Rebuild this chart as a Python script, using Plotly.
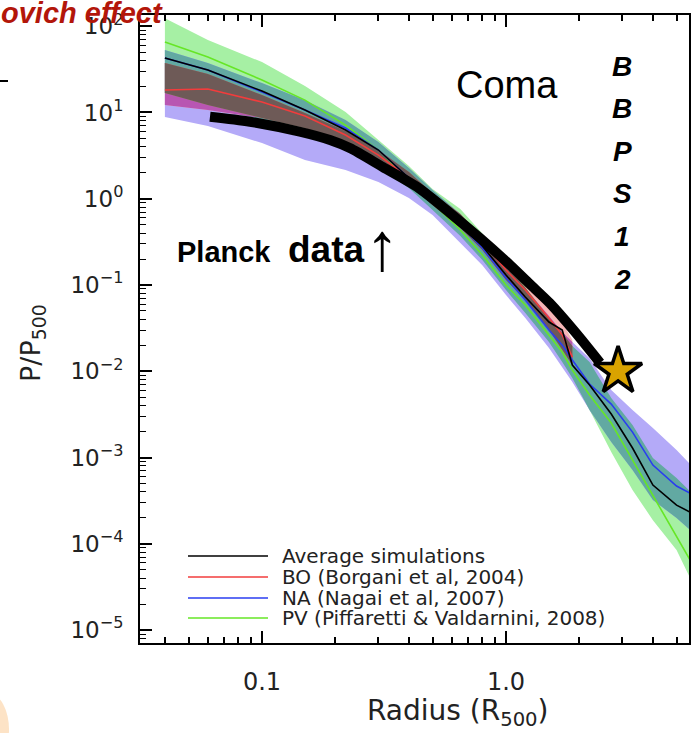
import numpy as np
import plotly.graph_objects as go

# ---------------- data ----------------
radius = [0.04, 0.06, 0.1, 0.15, 0.22, 0.3, 0.4, 0.5, 0.65, 0.8, 1.0, 1.2, 1.5,
          1.7, 1.87, 2.2, 2.7, 3.3, 4.0, 5.0, 6.0]

avg_sim = [42.8, 31.0, 17.7, 10.7, 6.26, 3.67, 1.74, 0.966, 0.509, 0.283, 0.1305,
           0.0725, 0.0372, 0.0301, 0.0118, 0.00692, 0.00319, 0.00129, 0.00048,
           0.000281, 0.000215]

bo_line = [18.2, 18.7, 13.2, 9.09, 5.48, 3.21, 1.74, 1.02, 0.566, 0.315, 0.149,
           0.0874, 0.0414, 0.0263, 0.0146]
bo_high = [37.4, 27.9, 15.9, 9.85, 6.09, 3.67, 2.04, 1.16, 0.665, 0.369, 0.1845,
           0.1082, 0.0541, 0.0372, 0.0230]
bo_low = [12.2, 10.7, 8.62, 6.60, 4.19, 2.66, 1.48, 0.845, 0.457, 0.254, 0.1142,
          0.067, 0.0301, 0.0176, 0.0118]

na_line = [42.8, 31.0, 17.3, 10.7, 6.60, 3.67, 1.74, 0.966, 0.496, 0.268, 0.1204,
           0.067, 0.0301, 0.0201, 0.0135, 0.00711, 0.00417, 0.00197, 0.000818,
           0.000467, 0.000357]
na_high = [52.9, 37.4, 21.9, 13.9, 8.17, 4.54, 2.27, 1.26, 0.665, 0.350, 0.166,
           0.0922, 0.0437, 0.0285, 0.0218, 0.0142, 0.00606, 0.00355, 0.00220,
           0.00122, 0.000716]
na_low = [8.85, 6.96, 4.42, 2.81, 2.15, 1.56, 1.02, 0.647, 0.306, 0.170, 0.0765,
          0.0414, 0.0186, 0.0109, 0.0075, 0.00355, 0.00151, 0.000716, 0.000321,
          0.000199, 0.000126]

pv_line = [65.6, 43.9, 23.8, 13.9, 7.15, 3.67, 1.65, 0.892, 0.434, 0.2225, 0.0999,
           0.0586, 0.0263, 0.0167, 0.01033, 0.0053, 0.00251, 0.000935, 0.000367,
           0.00012, 0.0000496]
pv_high = [124, 69, 38.4, 20.3, 10.1, 4.79, 2.39, 1.30, 0.760, 0.395, 0.1845,
           0.0947, 0.0414, 0.0277, 0.0196, 0.0128, 0.0049, 0.00238, 0.000986,
           0.000578, 0.000348]
pv_low = [16.8, 12.2, 8.17, 5.78, 3.67, 2.27, 1.33, 0.740, 0.369, 0.1947, 0.0874,
          0.0473, 0.0218, 0.0128, 0.00834, 0.00355, 0.00116, 0.00042, 0.000188,
          0.0000846, 0.0000291]

planck_r = [0.0612, 0.0893, 0.143, 0.190, 0.229, 0.313, 0.432, 0.590, 0.782, 1.04,
            1.25, 1.51, 1.92, 2.43]
planck_p = [8.93, 7.81, 5.98, 4.79, 3.87, 2.33, 1.37, 0.683, 0.350, 0.170, 0.103,
            0.0618, 0.0285, 0.0125]

star_r = [2.88]
star_p = [0.0100]

series_names = ["Average simulations", "BO (Borgani et al, 2004)",
                "NA (Nagai et al, 2007)", "PV (Piffaretti & Valdarnini, 2008)"]
series_colors = ["#000000", "#f23c3c", "#2a3cf0", "#66e626"]

y_tickvals = [1e-5, 1e-4, 1e-3, 1e-2, 1e-1, 1e0, 1e1, 1e2]
y_ticktext = ["10<sup>\u22125</sup>", "10<sup>\u22124</sup>", "10<sup>\u22123</sup>",
              "10<sup>\u22122</sup>", "10<sup>\u22121</sup>", "10<sup>0</sup>",
              "10<sup>1</sup>", "10<sup>2</sup>"]
x_tickvals = [0.1, 1.0]
x_ticktext = ["0.1", "1.0"]

# ---------------- layout geometry ----------------
W, H = 692, 733
L, R, T, B = 140, 3, 15, 90
PW, PH = W - L - R, H - T - B


def px(x):
    return (x - L) / PW


def py(y):
    return (H - B - y) / PH


fig = go.Figure()

# ---------------- bands, with overlap colours ----------------
bands = {
    "BO": (np.array(bo_low), np.array(bo_high)),
    "NA": (np.array(na_low), np.array(na_high)),
    "PV": (np.array(pv_low), np.array(pv_high)),
}
combo_colors = {
    ("PV",): "#a6f0a4",
    ("NA",): "#b4aaf8",
    ("BO",): "#f6b6b6",
    ("NA", "PV"): "#62a9a2",
    ("BO", "NA"): "#b856b2",
    ("BO", "PV"): "#a09a62",
    ("BO", "NA", "PV"): "#6e5a57",
}
r_arr = np.array(radius)
for combo, col in combo_colors.items():
    n = min(len(bands[k][0]) for k in combo)
    lo = np.max([bands[k][0][:n] for k in combo], axis=0)
    hi = np.min([bands[k][1][:n] for k in combo], axis=0)
    hi = np.maximum(hi, lo)
    xs = np.concatenate([r_arr[:n], r_arr[:n][::-1]])
    ys = np.concatenate([lo, hi[::-1]])
    fig.add_trace(go.Scatter(x=xs, y=ys, mode="lines", fill="toself",
                             fillcolor=col, line=dict(width=0),
                             hoverinfo="skip", showlegend=False))

# ---------------- simulation lines ----------------
line_data = [
    (pv_line, series_colors[3]),
    (bo_line, series_colors[1]),
    (na_line, series_colors[2]),
    (avg_sim, series_colors[0]),
]
for vals, col in line_data:
    fig.add_trace(go.Scatter(x=radius[:len(vals)], y=vals, mode="lines",
                             line=dict(color=col, width=1.6),
                             hoverinfo="skip", showlegend=False))

# ---------------- Planck data ----------------
fig.add_trace(go.Scatter(x=planck_r, y=planck_p, mode="lines",
                         line=dict(color="black", width=10, shape="spline",
                                   smoothing=0.8),
                         hoverinfo="skip", showlegend=False))
fig.add_trace(go.Scatter(x=star_r, y=star_p, mode="markers",
                         marker=dict(symbol="star", size=36, color="#d9a300",
                                     line=dict(color="black", width=3.5)),
                         hoverinfo="skip", showlegend=False))

# ---------------- legend (drawn by hand) ----------------
shapes = []
annotations = []
legend_rows = [556, 577, 598, 618]
for name, col, yy in zip(series_names, series_colors, legend_rows):
    shapes.append(dict(type="line", xref="paper", yref="paper",
                       x0=px(188), x1=px(268), y0=py(yy), y1=py(yy),
                       line=dict(color=col, width=1.6)))
    annotations.append(dict(text=name, xref="paper", yref="paper",
                            x=px(280), y=py(yy), xanchor="left", yanchor="middle",
                            showarrow=False,
                            font=dict(family="DejaVu Sans", size=20, color="#222")))

# ---------------- texts ----------------
annotations += [
    dict(text="Coma", x=px(507), y=py(85), font=dict(family="Liberation Sans",
                                                     size=38, color="black")),
    dict(text="<b>Planck</b>", x=px(224), y=py(252),
         font=dict(family="Liberation Sans", size=29, color="black")),
    dict(text="<b>data</b>", x=px(326), y=py(249),
         font=dict(family="Liberation Sans", size=37, color="black")),
    dict(text="\u2191", x=px(382), y=py(246),
         font=dict(family="Liberation Sans", size=68, color="black")),
    dict(text="<b><i>ovich effect</i></b>", x=px(-1), y=py(13), xanchor="left",
         font=dict(family="Liberation Sans", size=29, color="#b3160a")),
    dict(text="P/P<sub>500</sub>", x=px(32), y=py(343), textangle=-90,
         font=dict(family="DejaVu Sans", size=27, color="#222")),
    dict(text="Radius (R<sub>500</sub>)", x=px(458), y=py(712),
         font=dict(family="DejaVu Sans", size=28, color="#222")),
]
for i, ch in enumerate(["B", "B", "P", "S", "1", "2"]):
    annotations.append(dict(text="<b><i>%s</i></b>" % ch, x=px(622),
                            y=py(66 + 42.6 * i),
                            font=dict(family="Liberation Sans", size=28,
                                      color="black")))
for a in annotations:
    a.setdefault("xref", "paper")
    a.setdefault("yref", "paper")
    a.setdefault("showarrow", False)
    a.setdefault("xanchor", "center")
    a.setdefault("yanchor", "middle")

shapes += [
    dict(type="line", xref="paper", yref="paper", x0=px(0), x1=px(8),
         y0=py(81), y1=py(81), line=dict(color="black", width=2)),
    dict(type="circle", xref="paper", yref="paper", x0=px(-30), x1=px(9),
         y0=py(765), y1=py(694), fillcolor="#fde3c6", line=dict(width=0),
         layer="below"),
]

x_minor = [v * 10.0 ** e for e in (-2, -1, 0) for v in range(2, 10)]
y_minor = [v * 10.0 ** e for e in range(-6, 3) for v in range(2, 10)]

fig.update_layout(
    width=W, height=H,
    margin=dict(l=L, r=R, t=T, b=B, pad=0, autoexpand=False),
    paper_bgcolor="white", plot_bgcolor="white",
    showlegend=False,
    annotations=annotations,
    shapes=shapes,
    xaxis=dict(type="log", range=[-1.5, 0.75], showgrid=False, zeroline=False,
               automargin=False,
               showline=True, linecolor="black", linewidth=2, mirror="ticks",
               ticks="inside", ticklen=12, tickwidth=1.5, tickcolor="black",
               tickvals=x_tickvals, ticktext=x_ticktext,
               tickfont=dict(family="DejaVu Sans", size=24, color="#222"),
               ticklabelstandoff=16,
               minor=dict(tickvals=x_minor, ticks="inside", ticklen=6,
                          tickwidth=1.5, tickcolor="black", showgrid=False)),
    yaxis=dict(type="log", range=[-5.15, 2.13], showgrid=False, zeroline=False,
               automargin=False,
               showline=True, linecolor="black", linewidth=2, mirror=True,
               ticks="inside", ticklen=12, tickwidth=1.5, tickcolor="black",
               tickvals=y_tickvals, ticktext=y_ticktext,
               tickfont=dict(family="DejaVu Sans", size=23, color="#222"),
               ticklabelstandoff=10,
               minor=dict(tickvals=y_minor, ticks="inside", ticklen=6,
                          tickwidth=1.2, tickcolor="black", showgrid=False)),
)

fig.write_html("out.html", config={"displayModeBar": False},
               post_script="document.body.style.margin='0px';"
                           "document.body.style.overflow='hidden';")
